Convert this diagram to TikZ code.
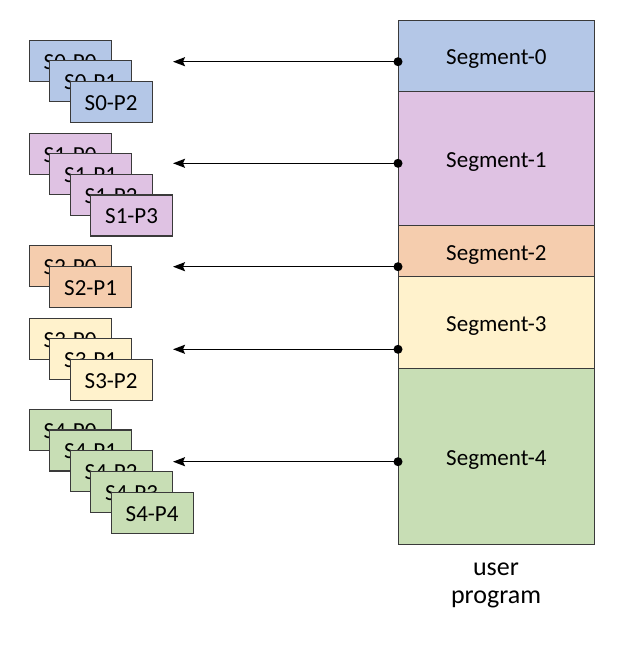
\documentclass[tikz,border=0pt]{standalone}
\usepackage{fontspec}
\setmainfont{Carlito}
\usetikzlibrary{arrows.meta}
\definecolor{segblue}{HTML}{B4C7E7}
\definecolor{segpurple}{HTML}{DFC2E3}
\definecolor{segorange}{HTML}{F5CDAE}
\definecolor{segyellow}{HTML}{FFF2CC}
\definecolor{seggreen}{HTML}{C8DEB5}
\definecolor{linegray}{HTML}{3A3A3A}
\begin{document}
\begin{tikzpicture}[x=1pt,y=-1pt,
  outline/.style={draw=linegray,line width=1.2pt},
  segbox/.style={outline,minimum width=195.5pt,anchor=north west,inner sep=0pt,
    text height=22.8pt,text depth=5pt,font=\fontsize{23}{28}\selectfont},
  pagebox/.style={outline,minimum width=82pt,minimum height=41pt,anchor=north west,
    inner sep=0pt,text height=16.8pt,text depth=0pt,font=\fontsize{23}{28}\selectfont},
  dot/.style={circle,fill=black,inner sep=0pt,minimum size=9pt},
  link/.style={line width=1.5pt,-{Stealth[length=12pt,width=9pt,inset=2pt]}}]
\useasboundingbox (0,0) rectangle (622,648);

% the user program, split into segments
\node[segbox,fill=segblue,minimum height=71.5pt] (seg0) at (398,19.5) {Segment-0};
\node[segbox,fill=segpurple,minimum height=134pt] (seg1) at (398,91) {Segment-1};
\node[segbox,fill=segorange,minimum height=51pt] (seg2) at (398,225) {Segment-2};
\node[segbox,fill=segyellow,minimum height=92pt] (seg3) at (398,276) {Segment-3};
\node[segbox,fill=seggreen,minimum height=175.5pt] (seg4) at (398,368) {Segment-4};
\node[align=center,font=\fontsize{26}{28}\selectfont] (prog) at (496,585) {user\\program};

% pages of each segment, stacked
\foreach \i in {0,...,2}
  \node[pagebox,fill=segblue] (s0p\i) at ({28.5+20.5*\i},{39.5+20.6*\i}) {S0-P\i};
\foreach \i in {0,...,3}
  \node[pagebox,fill=segpurple] (s1p\i) at ({28.5+20.5*\i},{132.5+20.6*\i}) {S1-P\i};
\foreach \i in {0,...,1}
  \node[pagebox,fill=segorange] (s2p\i) at ({28.5+20.5*\i},{245+20.6*\i}) {S2-P\i};
\foreach \i in {0,...,2}
  \node[pagebox,fill=segyellow] (s3p\i) at ({28.5+20.5*\i},{317.5+20.6*\i}) {S3-P\i};
\foreach \i in {0,...,4}
  \node[pagebox,fill=seggreen] (s4p\i) at ({28.5+20.5*\i},{408.5+20.8*\i}) {S4-P\i};

% links from each segment to its pages
\foreach \k/\y in {0/61.7,1/163.3,2/266.7,3/349.3,4/461.7}{
  \node[dot] (d\k) at (398,\y) {};
  \coordinate (t\k) at (173,\y);
  \draw[link] (d\k.center) -- (t\k);
}
\end{tikzpicture}
\end{document}
